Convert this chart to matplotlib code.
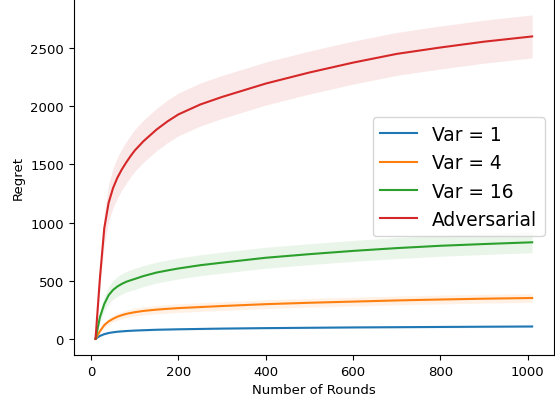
import matplotlib
matplotlib.use("Agg")
import matplotlib.pyplot as plt
import numpy as np

# rounds at which the regret was recorded
rounds = [10, 20, 30, 40, 50, 60, 70, 80, 90, 100, 120, 150, 175, 200, 250, 300,
          400, 500, 600, 700, 800, 900, 1010]

# mean regret per setting
var1 = [0, 25, 40, 50, 56, 61, 64, 67, 69, 71, 74, 78, 80, 82, 85, 88,
        92, 95, 98, 100, 102, 104, 106]
var4 = [0, 65, 118, 150, 172, 190, 203, 214, 222, 229, 240, 251, 258, 264, 273, 282,
        298, 310, 320, 330, 338, 345, 351]
var16 = [0, 185, 300, 375, 420, 450, 472, 490, 503, 515, 540, 570, 588, 605, 633, 655,
         697, 728, 756, 780, 800, 815, 830]
adversarial = [0, 520, 950, 1170, 1295, 1385, 1455, 1515, 1570, 1620, 1700, 1800, 1870, 1930, 2015, 2080,
               2195, 2290, 2375, 2450, 2505, 2555, 2600]

# half widths of the shaded bands
var1_band = [0, 3, 5, 6, 6, 7, 7, 7, 7, 7, 8, 8, 8, 8, 8, 8,
             8, 8, 8, 8, 8, 8, 8]
var4_band = [0, 12, 20, 25, 28, 30, 31, 32, 33, 34, 35, 36, 37, 37, 37, 38,
             38, 38, 38, 38, 38, 38, 38]
var16_band = [0, 40, 60, 72, 80, 85, 87, 88, 89, 90, 90, 90, 90, 90, 90, 90,
              90, 90, 90, 90, 90, 90, 90]
adv_band = [0, 90, 140, 160, 170, 175, 177, 178, 179, 180, 181, 182, 183, 184, 185, 185,
            185, 185, 185, 185, 185, 185, 185]

labels = ["Var = 1", "Var = 4", "Var = 16", "Adversarial"]

fig = plt.figure(figsize=(5.55, 4.02), dpi=100)
ax = fig.add_axes([0.1328, 0.1144, 0.8654, 0.8863])

x = np.array(rounds)
for mean, band, lab, col in zip([var1, var4, var16, adversarial],
                                [var1_band, var4_band, var16_band, adv_band],
                                labels, ["C0", "C1", "C2", "C3"]):
    mean = np.array(mean)
    band = np.array(band)
    ax.plot(x, mean, color=col, label=lab)
    ax.fill_between(x, mean - band, mean + band, color=col, alpha=0.1, linewidth=0)

ax.set_xticks([0, 200, 400, 600, 800, 1000])
ax.set_yticks([0, 500, 1000, 1500, 2000, 2500])
ax.tick_params(labelsize=9.5)
ax.set_xlabel("Number of Rounds", fontsize=9.5)
ax.set_ylabel("Regret", fontsize=9.5)
ax.legend(loc="center right", fontsize=13.4)

fig.savefig("out.png", dpi=100)
